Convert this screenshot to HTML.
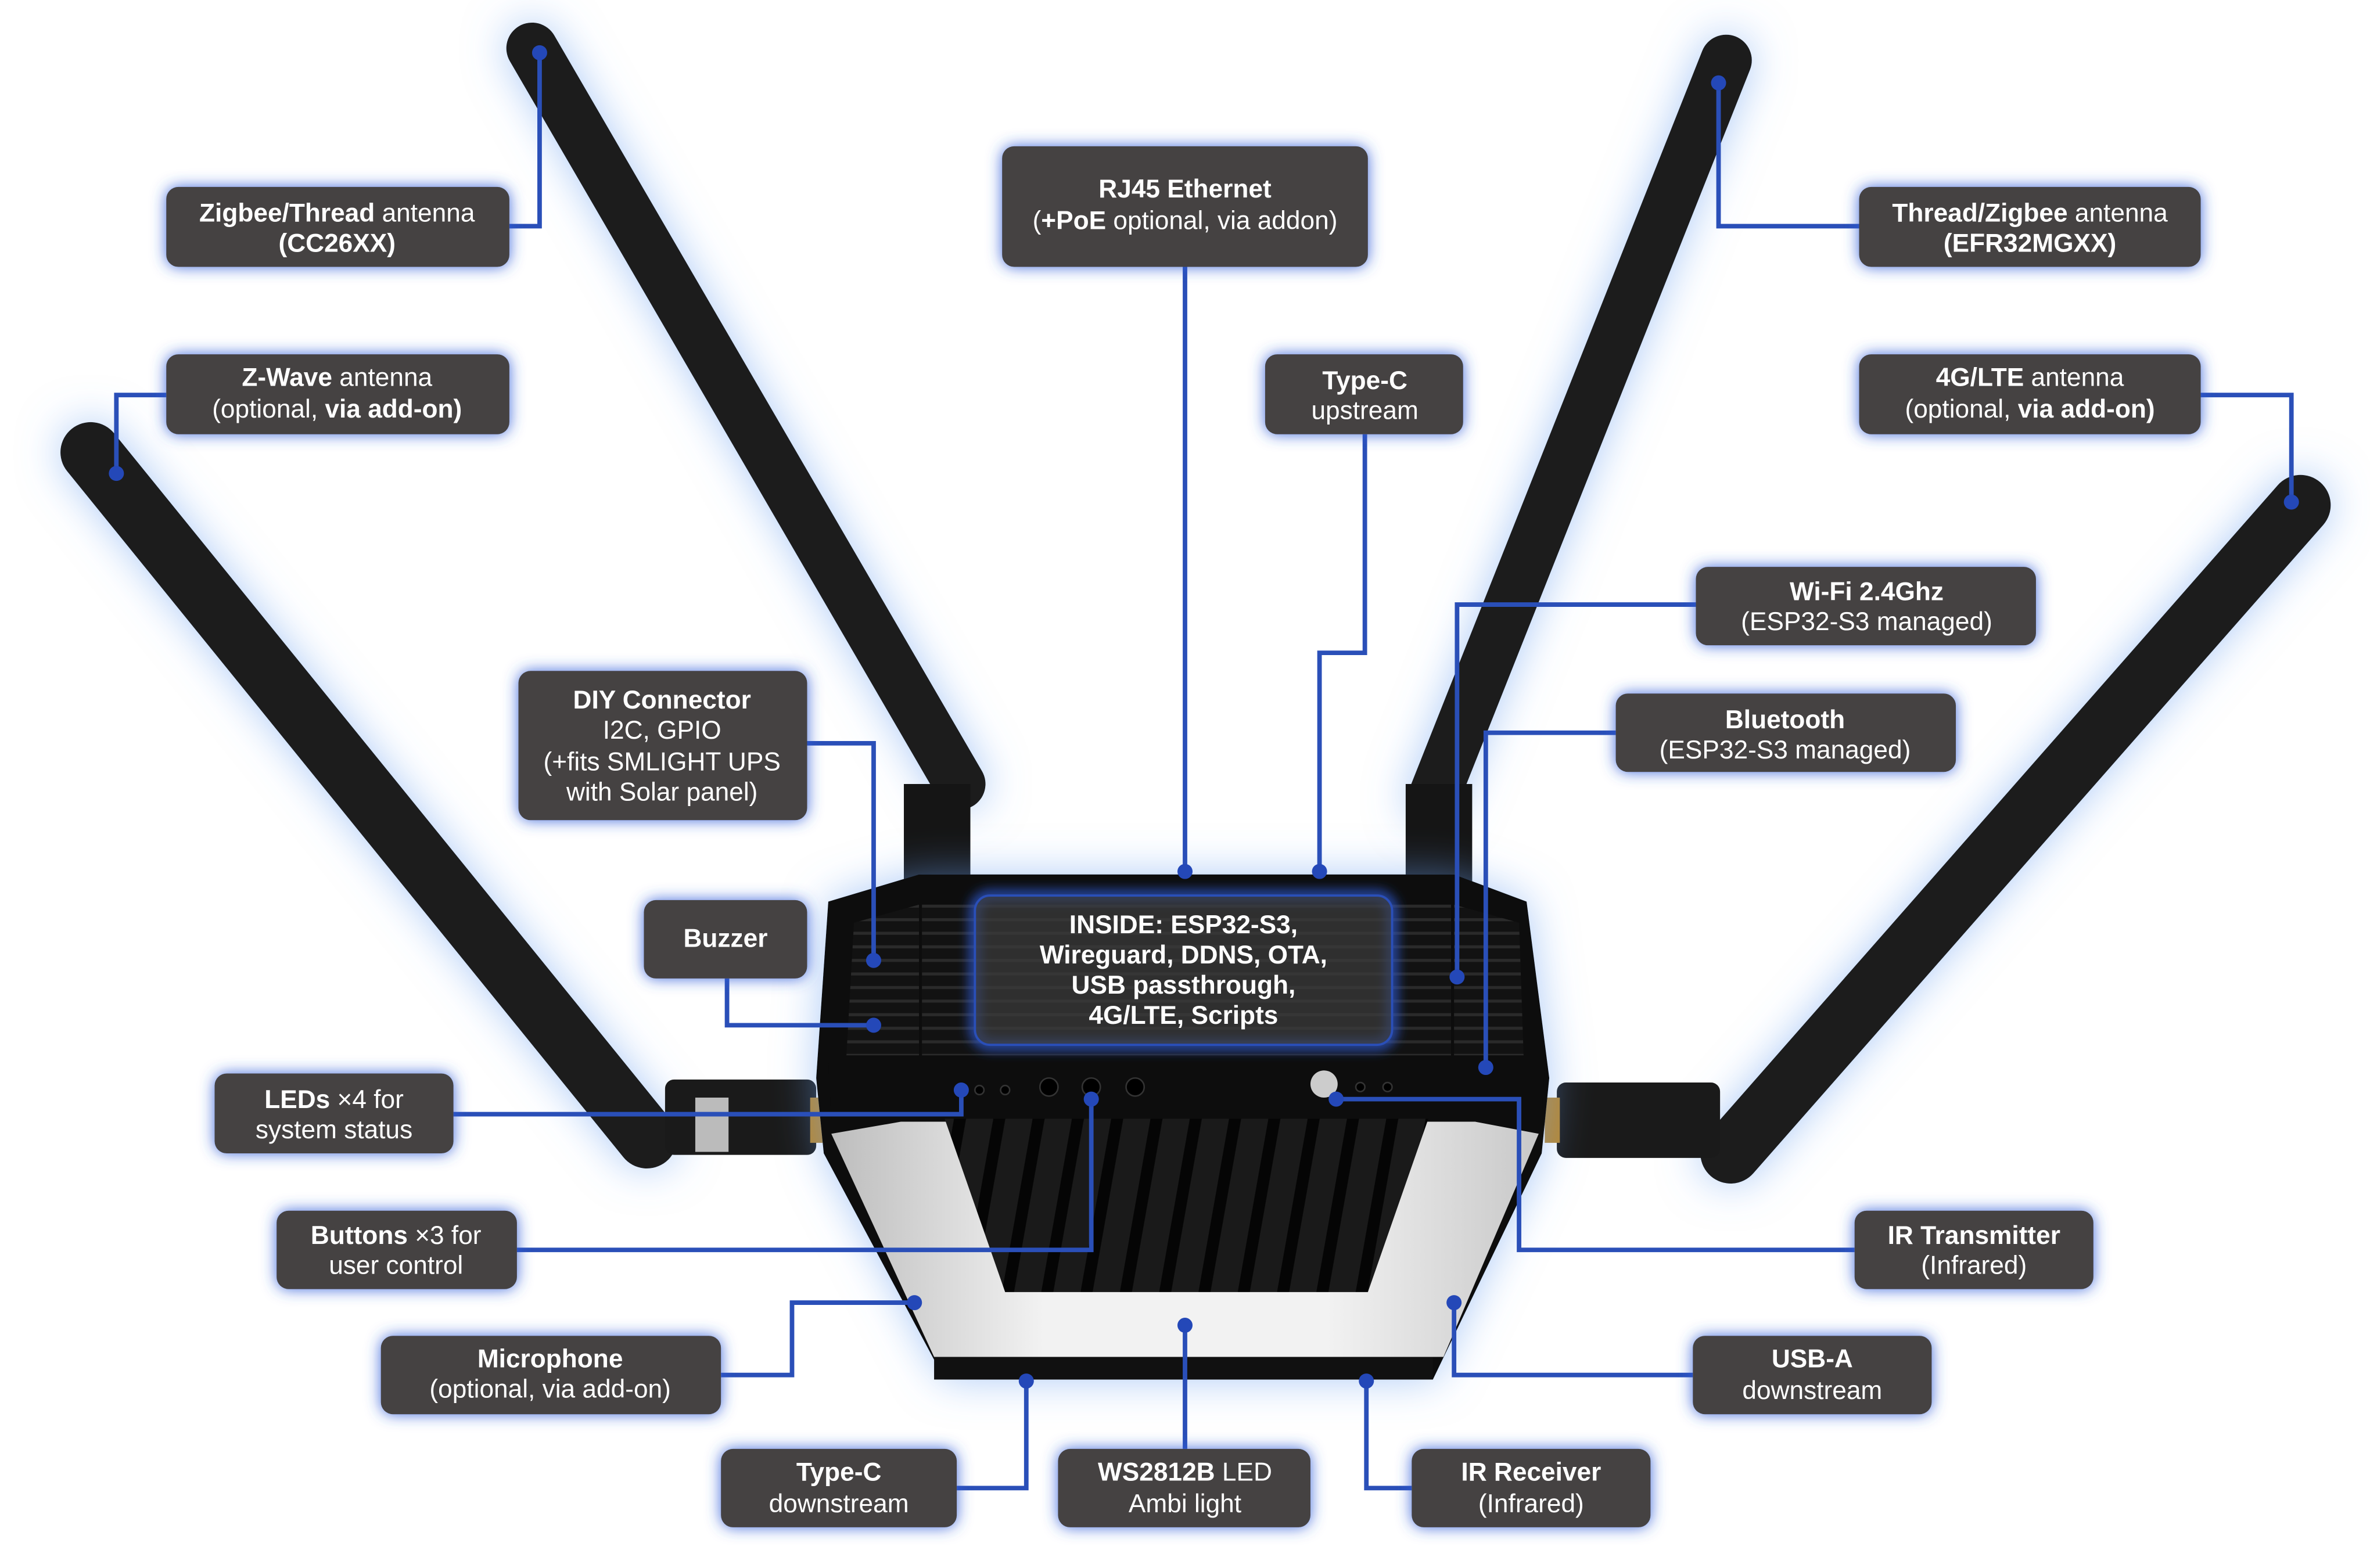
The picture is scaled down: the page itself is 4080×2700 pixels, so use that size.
<!DOCTYPE html>
<html><head><meta charset="utf-8"><style>
html,body{margin:0;padding:0;background:#fff;}
svg{display:block;}
text{font-family:"Liberation Sans",sans-serif;fill:#fff;font-size:17px;text-anchor:middle;}
.b{font-weight:bold;}
</style></head><body>
<svg width="4080" height="2700" viewBox="0 0 1568 1040" preserveAspectRatio="none" xmlns="http://www.w3.org/2000/svg">
<defs>
<filter id="g" x="-30%" y="-50%" width="160%" height="200%"><feDropShadow dx="0" dy="0" stdDeviation="5" flood-color="#2e5bd8" flood-opacity="0.9"/></filter>
<filter id="gb" x="-30%" y="-50%" width="160%" height="200%"><feGaussianBlur stdDeviation="4"/></filter>
<filter id="rg" x="-20%" y="-20%" width="140%" height="140%"><feDropShadow dx="0" dy="0" stdDeviation="14" flood-color="#6aa0f0" flood-opacity="0.55"/></filter>
<linearGradient id="wp" x1="0" y1="0" x2="1" y2="0"><stop offset="0" stop-color="#bdbdbd"/><stop offset="0.3" stop-color="#f2f2f2"/><stop offset="0.7" stop-color="#f2f2f2"/><stop offset="1" stop-color="#c8c8c8"/></linearGradient>
<pattern id="vent" width="26" height="120" patternUnits="userSpaceOnUse" patternTransform="skewX(-10)"><rect width="26" height="120" fill="#1a1a1a"/><rect x="8" width="8" height="120" fill="#050505"/></pattern>
<pattern id="hv" width="20" height="9" patternUnits="userSpaceOnUse"><rect width="20" height="9" fill="#121212"/><rect y="6" width="20" height="2" fill="#2a2a2a"/></pattern>
</defs>

<!-- antennas -->
<g filter="url(#rg)" stroke-linecap="round" fill="none">
<line x1="352" y1="32" x2="635" y2="520" stroke="#1c1c1c" stroke-width="34"/>
<line x1="1142" y1="40" x2="948" y2="530" stroke="#1c1c1c" stroke-width="34"/>
<line x1="60" y1="300" x2="428" y2="755" stroke="#1c1c1c" stroke-width="40"/>
<line x1="1522" y1="335" x2="1145" y2="765" stroke="#1c1c1c" stroke-width="40"/>
</g>
<rect x="598" y="520" width="44" height="70" fill="#151515"/>
<rect x="930" y="520" width="44" height="70" fill="#151515"/>
<rect x="440" y="716" width="100" height="50" rx="6" fill="#1a1a1a"/>
<rect x="460" y="728" width="22" height="36" fill="#bbb"/>
<rect x="536" y="728" width="10" height="30" fill="#b8862b"/>
<rect x="1030" y="718" width="108" height="50" rx="6" fill="#1a1a1a"/>
<rect x="1022" y="728" width="10" height="30" fill="#b8862b"/>

<!-- router -->
<g filter="url(#rg)">
<polygon points="548,598 608,580 962,580 1010,598 1025,715 1020,765 948,915 625,915 545,765 540,715" fill="#0d0d0d"/>
</g>
<rect x="610" y="600" width="350" height="100" fill="url(#hv)"/>
<polygon points="565,612 608,600 608,700 560,700" fill="url(#hv)"/>
<polygon points="962,600 1005,612 1008,700 962,700" fill="url(#hv)"/>
<polygon points="550,752 596,744 976,744 1018,752 955,900 618,900" fill="url(#wp)"/>
<polygon points="625,742 945,742 905,857 665,857" fill="url(#vent)"/>
<polygon points="548,705 1022,705 1020,742 550,742" fill="#0d0d0d"/>
<rect x="618" y="900" width="330" height="15" fill="#111"/>
<g fill="#000" stroke="#333" stroke-width="1"><circle cx="648" cy="723" r="3"/><circle cx="665" cy="723" r="3"/><circle cx="694" cy="721" r="6"/><circle cx="722" cy="721" r="6"/><circle cx="751" cy="721" r="6"/><circle cx="900" cy="721" r="3"/><circle cx="918" cy="721" r="3"/></g>
<circle cx="876" cy="719" r="9" fill="#ccc"/>

<!-- connectors -->
<g stroke="#2a4fb8" stroke-width="3" fill="none">
<polyline points="337,150 357,150 357,35"/>
<polyline points="110,262 77,262 77,314"/>
<polyline points="784,177 784,578"/>
<polyline points="903,288 903,433 873,433 873,578"/>
<polyline points="1230,150 1137,150 1137,55"/>
<polyline points="1456,262 1516,262 1516,333"/>
<polyline points="1122,401 964,401 964,648"/>
<polyline points="1069,486 983,486 983,708"/>
<polyline points="534,493 578,493 578,637"/>
<polyline points="481,649 481,680 578,680"/>
<polyline points="300,739 636,739 636,723"/>
<polyline points="342,829 722,829 722,729"/>
<polyline points="477,912 524,912 524,864 605,864"/>
<polyline points="633,987 679,987 679,916"/>
<polyline points="784,961 784,879"/>
<polyline points="934,987 904,987 904,916"/>
<polyline points="1120,912 962,912 962,864"/>
<polyline points="1227,829 1005,829 1005,729 882,729"/>
</g>
<g fill="#2448b8">
<circle cx="357" cy="35" r="5"/><circle cx="77" cy="314" r="5"/><circle cx="784" cy="578" r="5"/><circle cx="873" cy="578" r="5"/>
<circle cx="1137" cy="55" r="5"/><circle cx="1516" cy="333" r="5"/><circle cx="964" cy="648" r="5"/><circle cx="983" cy="708" r="5"/>
<circle cx="578" cy="637" r="5"/><circle cx="578" cy="680" r="5"/><circle cx="636" cy="723" r="5"/><circle cx="722" cy="729" r="5"/>
<circle cx="605" cy="864" r="5"/><circle cx="679" cy="916" r="5"/><circle cx="784" cy="879" r="5"/><circle cx="904" cy="916" r="5"/>
<circle cx="962" cy="864" r="5"/><circle cx="884" cy="729" r="5"/>
</g>

<!-- label boxes -->
<g fill="#444242" filter="url(#g)">
<rect x="110" y="124" width="227" height="53" rx="8"/>
<rect x="110" y="235" width="227" height="53" rx="8"/>
<rect x="663" y="97" width="242" height="80" rx="8"/>
<rect x="837" y="235" width="131" height="53" rx="8"/>
<rect x="1230" y="124" width="226" height="53" rx="8"/>
<rect x="1230" y="235" width="226" height="53" rx="8"/>
<rect x="1122" y="376" width="225" height="52" rx="8"/>
<rect x="1069" y="460" width="225" height="52" rx="8"/>
<rect x="343" y="445" width="191" height="99" rx="8"/>
<rect x="426" y="597" width="108" height="52" rx="8"/>
<rect x="142" y="712" width="158" height="53" rx="8"/>
<rect x="183" y="803" width="159" height="52" rx="8"/>
<rect x="252" y="886" width="225" height="52" rx="8"/>
<rect x="477" y="961" width="156" height="52" rx="8"/>
<rect x="700" y="961" width="167" height="52" rx="8"/>
<rect x="934" y="961" width="158" height="52" rx="8"/>
<rect x="1120" y="886" width="158" height="52" rx="8"/>
<rect x="1227" y="803" width="158" height="52" rx="8"/>
</g>
<rect x="645" y="594" width="276" height="99" rx="10" fill="none" stroke="#2e5bd8" stroke-width="6" filter="url(#gb)"/>
<rect x="645" y="594" width="276" height="99" rx="10" fill="#3c3c3c" fill-opacity="0.7" stroke="#2a4fb8" stroke-width="1.5"/>

<text x="223" y="147"><tspan class="b">Zigbee/Thread</tspan> antenna</text>
<text x="223" y="167" class="b">(CC26XX)</text>
<text x="223" y="256"><tspan class="b">Z-Wave</tspan> antenna</text>
<text x="223" y="277">(optional, <tspan class="b">via add-on)</tspan></text>
<text x="784" y="131" class="b">RJ45 Ethernet</text>
<text x="784" y="152">(<tspan class="b">+PoE</tspan> optional, via addon)</text>
<text x="903" y="258" class="b">Type-C</text>
<text x="903" y="278">upstream</text>
<text x="1343" y="147"><tspan class="b">Thread/Zigbee</tspan> antenna</text>
<text x="1343" y="167" class="b">(EFR32MGXX)</text>
<text x="1343" y="256"><tspan class="b">4G/LTE</tspan> antenna</text>
<text x="1343" y="277">(optional, <tspan class="b">via add-on)</tspan></text>
<text x="1235" y="398" class="b">Wi-Fi 2.4Ghz</text>
<text x="1235" y="418">(ESP32-S3 managed)</text>
<text x="1181" y="483" class="b">Bluetooth</text>
<text x="1181" y="503">(ESP32-S3 managed)</text>
<text x="438" y="470" class="b">DIY Connector</text>
<text x="438" y="490">I2C, GPIO</text>
<text x="438" y="511">(+fits SMLIGHT UPS</text>
<text x="438" y="531">with Solar panel)</text>
<text x="480" y="628" class="b">Buzzer</text>
<text x="221" y="735"><tspan class="b">LEDs</tspan> ×4 for</text>
<text x="221" y="755">system status</text>
<text x="262" y="825"><tspan class="b">Buttons</tspan> ×3 for</text>
<text x="262" y="845">user control</text>
<text x="364" y="907" class="b">Microphone</text>
<text x="364" y="927">(optional, via add-on)</text>
<text x="555" y="982" class="b">Type-C</text>
<text x="555" y="1003">downstream</text>
<text x="784" y="982"><tspan class="b">WS2812B</tspan> LED</text>
<text x="784" y="1003">Ambi light</text>
<text x="1013" y="982" class="b">IR Receiver</text>
<text x="1013" y="1003">(Infrared)</text>
<text x="1199" y="907" class="b">USB-A</text>
<text x="1199" y="928">downstream</text>
<text x="1306" y="825" class="b">IR Transmitter</text>
<text x="1306" y="845">(Infrared)</text>
<text x="783" y="619" class="b">INSIDE: ESP32-S3,</text>
<text x="783" y="639" class="b">Wireguard, DDNS, OTA,</text>
<text x="783" y="659" class="b">USB passthrough,</text>
<text x="783" y="679" class="b">4G/LTE, Scripts</text>
</svg>
</body></html>
